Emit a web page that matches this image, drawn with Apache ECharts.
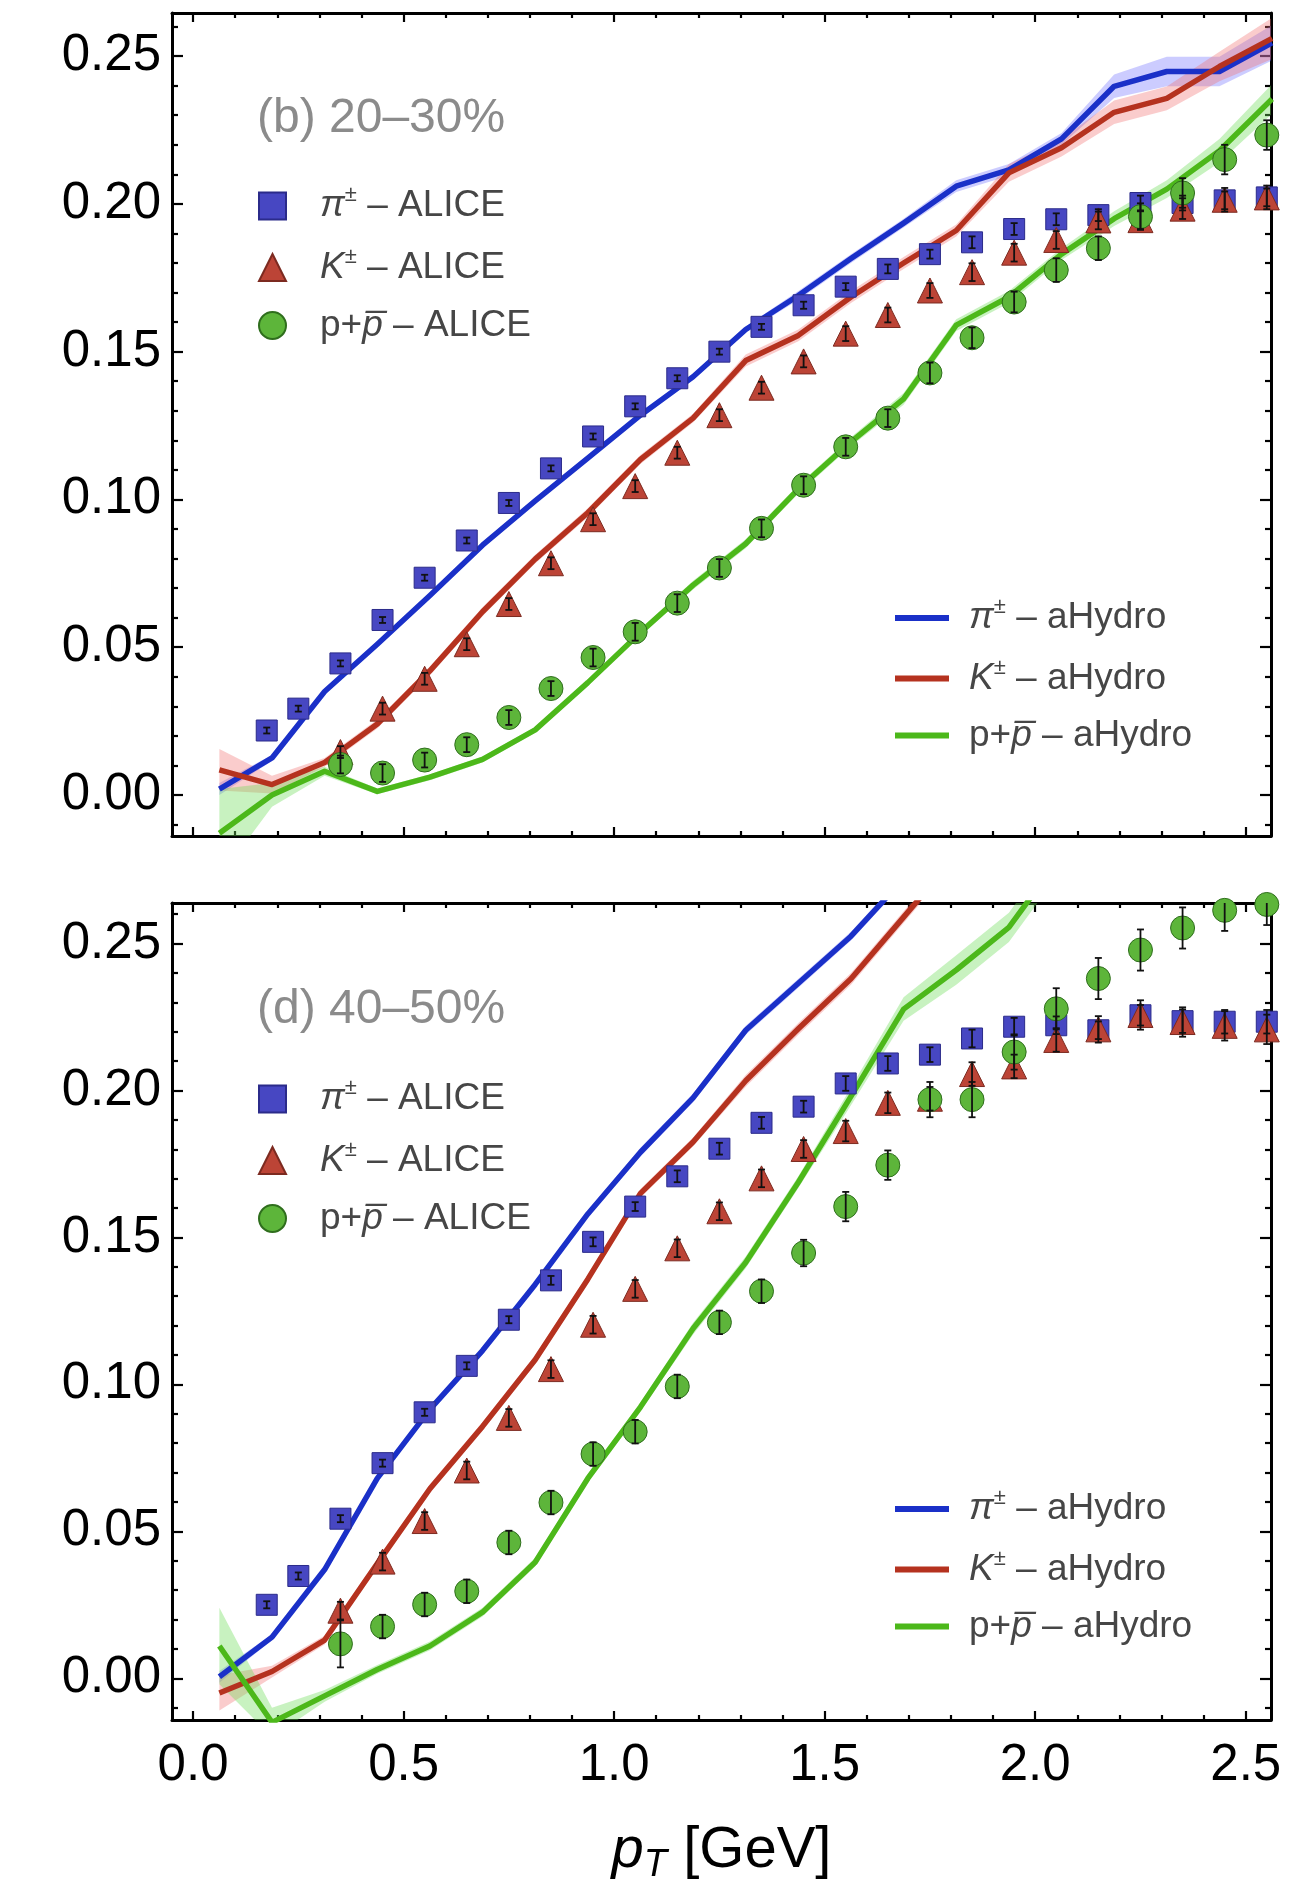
<!DOCTYPE html>
<html>
<head>
<meta charset="utf-8">
<script src="https://cdn.jsdelivr.net/npm/echarts@6/dist/echarts.min.js"></script>
<style>html,body{margin:0;padding:0;background:#fff}#c{width:1301px;height:1885px}</style>
</head>
<body>
<div id="c"></div>
<script>
// ---------------- DATA ----------------
// aHydro model grid (GeV)
const ptModel = [0.0625, 0.1875, 0.3125, 0.4375, 0.5625, 0.6875, 0.8125, 0.9375, 1.0625, 1.1875, 1.3125,
                 1.4375, 1.5625, 1.6875, 1.8125, 1.9375, 2.0625, 2.1875, 2.3125, 2.4375, 2.5625];
// panel (b) 20-30% : aHydro v2
const piHydroB = [0.002, 0.0125, 0.035, 0.051, 0.0675, 0.0845, 0.0995, 0.114, 0.1285, 0.1415, 0.1575,
                  0.169, 0.1815, 0.1935, 0.206, 0.2115, 0.222, 0.2398, 0.2448, 0.2448, 0.2545];
const kHydroB  = [0.0085, 0.0035, 0.011, 0.024, 0.042, 0.062, 0.0798, 0.0955, 0.1135, 0.1275, 0.147,
                  0.1555, 0.1685, 0.180, 0.191, 0.2105, 0.219, 0.231, 0.2357, 0.2465, 0.256];
const pHydroB  = [-0.013, 0.0, 0.008, 0.0012, 0.006, 0.012, 0.022, 0.038, 0.055, 0.071, 0.085,
                  0.1035, 0.1195, 0.134, 0.159, 0.1685, 0.183, 0.195, 0.205, 0.218, 0.2355];
const piBandB  = [0.002, 0.001, 0.001, 0.001, 0.001, 0.001, 0.001, 0.001, 0.001, 0.001, 0.001,
                  0.0015, 0.0015, 0.0015, 0.002, 0.002, 0.002, 0.004, 0.005, 0.005, 0.006];
const kBandB   = [0.007, 0.003, 0.0015, 0.0015, 0.0015, 0.0015, 0.0015, 0.0015, 0.0015, 0.0015, 0.002,
                  0.002, 0.002, 0.002, 0.002, 0.003, 0.003, 0.004, 0.004, 0.005, 0.007];
const pBandB   = [0.015, 0.004, 0.0015, 0.001, 0.001, 0.001, 0.001, 0.001, 0.001, 0.0015, 0.0015,
                  0.0015, 0.0015, 0.002, 0.002, 0.002, 0.002, 0.0025, 0.003, 0.004, 0.005];
// panel (d) 40-50% : aHydro v2 (curves leave the frame at the top)
const piHydroD = [0.0005, 0.014, 0.037, 0.068, 0.0915, 0.1115, 0.134, 0.158, 0.179, 0.1975, 0.2205,
                  0.2365, 0.2525, 0.272];
const kHydroD  = [-0.005, 0.0023, 0.013, 0.039, 0.0645, 0.0857, 0.1084, 0.1358, 0.165, 0.1825, 0.2033,
                  0.221, 0.238, 0.259, 0.28];
const pHydroD  = [0.011, -0.015, -0.006, 0.003, 0.011, 0.0225, 0.0395, 0.068, 0.0923, 0.119, 0.1415,
                  0.1688, 0.198, 0.2277, 0.241, 0.2555, 0.28];
const piBandD  = [0.002, 0.001, 0.001, 0.001, 0.001, 0.001, 0.001, 0.001, 0.0015, 0.0015, 0.0015,
                  0.0015, 0.0015, 0.0015];
const kBandD   = [0.006, 0.002, 0.0015, 0.0015, 0.0015, 0.0015, 0.0015, 0.0015, 0.0015, 0.0015, 0.002,
                  0.002, 0.002, 0.002, 0.002];
const pBandD   = [0.013, 0.005, 0.002, 0.0015, 0.0015, 0.0015, 0.0015, 0.0015, 0.0015, 0.002, 0.002,
                  0.002, 0.003, 0.004, 0.005, 0.005, 0.005];

// ALICE measurements
const ptPion = [0.175, 0.25, 0.35, 0.45, 0.55, 0.65, 0.75, 0.85, 0.95, 1.05, 1.15, 1.25, 1.35,
                1.45, 1.55, 1.65, 1.75, 1.85, 1.95, 2.05, 2.15, 2.25, 2.35, 2.45, 2.55];
const ptKP   = [0.35, 0.45, 0.55, 0.65, 0.75, 0.85, 0.95, 1.05, 1.15, 1.25, 1.35,
                1.45, 1.55, 1.65, 1.75, 1.85, 1.95, 2.05, 2.15, 2.25, 2.35, 2.45, 2.55];
// (b) 20-30%
const piAliceB = [0.0218, 0.0292, 0.0445, 0.0592, 0.0735, 0.0861, 0.0988, 0.1105, 0.1213, 0.1315, 0.141,
                  0.150, 0.1584, 0.1657, 0.172, 0.178, 0.183, 0.187, 0.1915, 0.1948, 0.1962, 0.2003,
                  0.2003, 0.2012, 0.2022];
const piErrB   = [0.001, 0.001, 0.001, 0.001, 0.001, 0.001, 0.001, 0.001, 0.001, 0.001, 0.001,
                  0.001, 0.001, 0.0012, 0.0012, 0.0015, 0.0015, 0.002, 0.002, 0.002, 0.002, 0.0025,
                  0.0025, 0.003, 0.003];
const kAliceB  = [0.0145, 0.0292, 0.0393, 0.051, 0.0646, 0.0784, 0.0933, 0.1045, 0.1158, 0.1285, 0.1378,
                  0.1467, 0.1561, 0.1624, 0.1707, 0.1769, 0.1835, 0.1878, 0.1944, 0.1945, 0.1984,
                  0.2014, 0.2022];
const kErrB    = [0.002, 0.002, 0.002, 0.002, 0.002, 0.002, 0.002, 0.002, 0.002, 0.002, 0.002,
                  0.002, 0.0025, 0.0025, 0.0025, 0.003, 0.003, 0.003, 0.003, 0.003, 0.0035, 0.004, 0.004];
const pAliceB  = [0.0103, 0.0074, 0.0118, 0.017, 0.0262, 0.036, 0.0465, 0.0552, 0.0649, 0.0768, 0.0902,
                  0.1048, 0.1178, 0.1275, 0.1428, 0.1547, 0.1668, 0.1776, 0.185, 0.1957, 0.2037,
                  0.215, 0.2233];
const pErrB    = [0.003, 0.003, 0.0025, 0.0025, 0.0025, 0.0025, 0.003, 0.003, 0.003, 0.003, 0.003,
                  0.003, 0.003, 0.003, 0.0035, 0.0035, 0.0035, 0.004, 0.004, 0.0045, 0.005, 0.005, 0.005];
// (d) 40-50%
const piAliceD = [0.025, 0.0348, 0.0543, 0.0732, 0.0905, 0.1063, 0.122, 0.1354, 0.1485, 0.1605, 0.1708,
                  0.1802, 0.189, 0.1945, 0.2024, 0.2092, 0.2122, 0.2177, 0.2217, 0.2222, 0.2205, 0.2256,
                  0.2236, 0.2234, 0.2234];
const piErrD   = [0.0012, 0.0012, 0.0012, 0.0012, 0.0012, 0.0012, 0.0012, 0.0015, 0.0015, 0.0015, 0.002,
                  0.002, 0.002, 0.002, 0.0025, 0.0025, 0.0025, 0.003, 0.003, 0.003, 0.003, 0.0035,
                  0.004, 0.004, 0.004];
const kAliceD  = [0.023, 0.0397, 0.0535, 0.0707, 0.0886, 0.1052, 0.1203, 0.1325, 0.1463, 0.1589, 0.1701,
                  0.1801, 0.1862, 0.1958, 0.1972, 0.2056, 0.2082, 0.2172, 0.2208, 0.2257, 0.2233,
                  0.222, 0.2208];
const kErrD    = [0.003, 0.003, 0.003, 0.003, 0.003, 0.003, 0.003, 0.003, 0.003, 0.003, 0.003,
                  0.003, 0.0035, 0.0035, 0.004, 0.004, 0.004, 0.004, 0.0045, 0.005, 0.005, 0.005, 0.005];
const pAliceD  = [0.0117, 0.0176, 0.0251, 0.0296, 0.0462, 0.0598, 0.0763, 0.0839, 0.0993, 0.1211, 0.1317,
                  0.1447, 0.1605, 0.1746, 0.1969, 0.1969, 0.2131, 0.2278, 0.2381, 0.2478, 0.2553,
                  0.2613, 0.2633];
const pErrD    = [0.008, 0.004, 0.004, 0.004, 0.004, 0.004, 0.004, 0.004, 0.004, 0.004, 0.004,
                  0.0045, 0.005, 0.005, 0.006, 0.006, 0.006, 0.007, 0.007, 0.007, 0.007, 0.007, 0.007];

// axes / ticks
const xRange = [-0.05, 2.56];
const yRangeB = [-0.0139, 0.2646];
const yRangeD = [-0.0142, 0.2638];
const xMajorTicks = [0, 0.5, 1.0, 1.5, 2.0, 2.5];
const xTickLabels = ['0.0', '0.5', '1.0', '1.5', '2.0', '2.5'];
const xMinorTicks = [0.1, 0.2, 0.3, 0.4, 0.6, 0.7, 0.8, 0.9, 1.1, 1.2, 1.3, 1.4, 1.6, 1.7, 1.8, 1.9,
                     2.1, 2.2, 2.3, 2.4];
const yMajorTicks = [0, 0.05, 0.10, 0.15, 0.20, 0.25];
const yTickLabels = ['0.00', '0.05', '0.10', '0.15', '0.20', '0.25'];
const yMinorTicks = [-0.01, 0.01, 0.02, 0.03, 0.04, 0.06, 0.07, 0.08, 0.09, 0.11, 0.12, 0.13, 0.14,
                     0.16, 0.17, 0.18, 0.19, 0.21, 0.22, 0.23, 0.24, 0.26];

const panelLabels = ['(b) 20\u201330%', '(d) 40\u201350%'];
const aliceNames = ['\u03c0\u00b1 \u2013 ALICE', 'K\u00b1 \u2013 ALICE', 'p+p\u0305 \u2013 ALICE'];
const hydroNames = ['\u03c0\u00b1 \u2013 aHydro', 'K\u00b1 \u2013 aHydro', 'p+p\u0305 \u2013 aHydro'];

// ---------------- STYLE ----------------
const FONT = '"Liberation Sans", Arial, Helvetica, sans-serif';
const TXT = '#464646';
const species = [
  {line: '#1a30c8', band: 'rgba(110,110,255,0.35)', mark: '#4747c2', edge: '#2b2b8a', symbol: 'rect', size: 21},
  {line: '#b5321f', band: 'rgba(240,110,110,0.35)', mark: '#bc4436', edge: '#7c2a20', symbol: 'triangle', size: 25},
  {line: '#4cb81a', band: 'rgba(110,220,90,0.38)', mark: '#5db53a', edge: '#2f6e1d', symbol: 'circle', size: 24}
];
const grids = [
  {left: 172, top: 13, width: 1099, height: 823},
  {left: 172, top: 903, width: 1099, height: 825}
];
const panels = [
  {yr: yRangeB, hydro: [piHydroB, kHydroB, pHydroB], band: [piBandB, kBandB, pBandB],
   alice: [[ptPion, piAliceB, piErrB], [ptKP, kAliceB, kErrB], [ptKP, pAliceB, pErrB]],
   aliceTop: 184, hydroTop: 596, titleTop: 91},
  {yr: yRangeD, hydro: [piHydroD, kHydroD, pHydroD], band: [piBandD, kBandD, pBandD],
   alice: [[ptPion, piAliceD, piErrD], [ptKP, kAliceD, kErrD], [ptKP, pAliceD, pErrD]],
   aliceTop: 1077, hydroTop: 1487, titleTop: 982}
];

function lookup(ticks, labels, v) {
  for (let i = 0; i < ticks.length; i++) if (Math.abs(ticks[i] - v) < 1e-9) return labels[i];
  return '';
}

function mkAxis(g, pos, range, ticks, len, showLine, labelOpt) {
  const a = {
    type: 'value', gridIndex: g, position: pos, min: range[0], max: range[1],
    axisLine: {show: showLine, onZero: false, lineStyle: {color: '#000', width: 3}},
    axisTick: {show: true, inside: true, length: len, customValues: ticks,
               lineStyle: {color: '#000', width: 2.2}},
    axisLabel: {show: false},
    splitLine: {show: false},
    minorTick: {show: false},
    axisPointer: {show: false}
  };
  if (labelOpt) a.axisLabel = labelOpt;
  return a;
}

const xAxes = [], yAxes = [];
for (let g = 0; g < 2; g++) {
  const xl = g === 1 ? {
    show: true, customValues: xMajorTicks, margin: 20,
    formatter: v => lookup(xMajorTicks, xTickLabels, v),
    fontSize: 51, fontFamily: FONT, color: '#000'
  } : null;
  const xb = mkAxis(g, 'bottom', xRange, xMajorTicks, 9, true, xl);
  if (g === 1) {
    xb.name = '{i|p}{s|T}{t| [GeV]}';
    xb.nameLocation = 'middle';
    xb.nameGap = 98;
    xb.nameTextStyle = {
      rich: {
        i: {fontStyle: 'italic', fontSize: 58, lineHeight: 66, fontFamily: FONT, color: '#000'},
        s: {fontStyle: 'italic', fontSize: 38, lineHeight: 44, verticalAlign: 'bottom', fontFamily: FONT, color: '#000'},
        t: {fontSize: 58, lineHeight: 66, fontFamily: FONT, color: '#000'}
      }
    };
  }
  xAxes.push(xb);
  xAxes.push(mkAxis(g, 'bottom', xRange, xMinorTicks, 5, false, null));
  xAxes.push(mkAxis(g, 'top', xRange, xMajorTicks, 9, true, null));
  xAxes.push(mkAxis(g, 'top', xRange, xMinorTicks, 5, false, null));

  const yr = panels[g].yr;
  yAxes.push(mkAxis(g, 'left', yr, yMajorTicks, 11, true, {
    show: true, customValues: yMajorTicks, margin: 11,
    formatter: v => lookup(yMajorTicks, yTickLabels, v),
    fontSize: 51, fontFamily: FONT, color: '#000'
  }));
  yAxes.push(mkAxis(g, 'left', yr, yMinorTicks, 6, false, null));
  yAxes.push(mkAxis(g, 'right', yr, yMajorTicks, 11, true, null));
  yAxes.push(mkAxis(g, 'right', yr, yMinorTicks, 6, false, null));
}

function bandSeries(g, xs, ys, hw, color) {
  return {
    type: 'custom', xAxisIndex: g * 4, yAxisIndex: g * 4, clip: true, silent: true, z: 1,
    encode: {x: 0, y: 1},
    data: [[xs[0], ys[0]]],
    renderItem: function (params, api) {
      const up = [], dn = [];
      for (let i = 0; i < ys.length; i++) {
        up.push(api.coord([xs[i], ys[i] + hw[i]]));
        dn.push(api.coord([xs[i], ys[i] - hw[i]]));
      }
      return {type: 'polygon', shape: {points: up.concat(dn.reverse())}, style: {fill: color}};
    }
  };
}

function errSeries(g, xs, ys, es) {
  return {
    type: 'custom', xAxisIndex: g * 4, yAxisIndex: g * 4, clip: true, silent: true, z: 5,
    encode: {x: 0, y: 1},
    data: xs.map((x, i) => [x, ys[i], es[i]]),
    renderItem: function (params, api) {
      const x = api.value(0), y = api.value(1), e = api.value(2);
      const t = api.coord([x, y + e]), b = api.coord([x, y - e]);
      const cw = 3.5, st = {stroke: '#111', lineWidth: 1.8};
      return {type: 'group', children: [
        {type: 'line', shape: {x1: t[0], y1: t[1], x2: b[0], y2: b[1]}, style: st},
        {type: 'line', shape: {x1: t[0] - cw, y1: t[1], x2: t[0] + cw, y2: t[1]}, style: st},
        {type: 'line', shape: {x1: b[0] - cw, y1: b[1], x2: b[0] + cw, y2: b[1]}, style: st}
      ]};
    }
  };
}

const series = [];
for (let g = 0; g < 2; g++) {
  const P = panels[g];
  for (let s = 0; s < 3; s++) {
    const sp = species[s];
    const ys = P.hydro[s];
    const xs = ptModel.slice(0, ys.length);
    series.push(bandSeries(g, xs, ys, P.band[s], sp.band));
    series.push({
      type: 'line', name: hydroNames[s], xAxisIndex: g * 4, yAxisIndex: g * 4, z: 2,
      data: xs.map((x, i) => [x, ys[i]]), symbol: 'none', showSymbol: false, clip: true, silent: true,
      lineStyle: {color: sp.line, width: 5.5, join: 'round'}, itemStyle: {color: sp.line}
    });
  }
  for (let s = 0; s < 3; s++) {
    const sp = species[s];
    const [xs, ys, es] = P.alice[s];
    series.push({
      type: 'scatter', name: aliceNames[s], xAxisIndex: g * 4, yAxisIndex: g * 4, z: 3,
      data: xs.map((x, i) => [x, ys[i]]), symbol: sp.symbol, symbolSize: sp.size, silent: true,
      itemStyle: {color: sp.mark, borderColor: sp.edge, borderWidth: 1, opacity: 1}
    });
    series.push(errSeries(g, xs, ys, es));
  }
}

function richFor(gap) {
  return {
    g: {width: gap, lineHeight: 44, fontSize: 36},
    t: {fontSize: 37, lineHeight: 44, fontFamily: FONT, color: TXT},
    i: {fontSize: 37, lineHeight: 44, fontStyle: 'italic', fontFamily: FONT, color: TXT},
    s: {fontSize: 22, lineHeight: 26, verticalAlign: 'top', fontFamily: FONT, color: TXT}
  };
}
const legendFmt = {};
legendFmt[aliceNames[0]] = '{g| }{i|\u03c0}{s|\u00b1}{t| \u2013 ALICE}';
legendFmt[aliceNames[1]] = '{g| }{i|K}{s|\u00b1}{t| \u2013 ALICE}';
legendFmt[aliceNames[2]] = '{g| }{t|p+}{i|p\u0305}{t| \u2013 ALICE}';
legendFmt[hydroNames[0]] = '{g| }{i|\u03c0}{s|\u00b1}{t| \u2013 aHydro}';
legendFmt[hydroNames[1]] = '{g| }{i|K}{s|\u00b1}{t| \u2013 aHydro}';
legendFmt[hydroNames[2]] = '{g| }{t|p+}{i|p\u0305}{t| \u2013 aHydro}';

const legends = [];
for (let g = 0; g < 2; g++) {
  legends.push({
    orient: 'vertical', left: 258, top: panels[g].aliceTop, padding: 0,
    itemWidth: 27, itemHeight: 27, itemGap: 21, selectedMode: false,
    data: aliceNames, formatter: n => legendFmt[n],
    textStyle: {rich: richFor(29)}
  });
  legends.push({
    orient: 'vertical', left: 895, top: panels[g].hydroTop, padding: 0,
    itemWidth: 54, itemHeight: 6, itemGap: 20, selectedMode: false,
    data: hydroNames.map(n => ({name: n, icon: 'rect'})), formatter: n => legendFmt[n],
    textStyle: {rich: richFor(15)}
  });
}

const titles = panelLabels.map((t, g) => ({
  text: t, left: 257, top: panels[g].titleTop, padding: 0,
  textStyle: {fontSize: 48, lineHeight: 56, fontWeight: 'normal', fontFamily: FONT, color: '#8b8b8b'}
}));

const chart = echarts.init(document.getElementById('c'), null, {renderer: 'canvas', width: 1301, height: 1885});
chart.setOption({
  animation: false,
  backgroundColor: '#ffffff',
  title: titles,
  grid: grids,
  xAxis: xAxes,
  yAxis: yAxes,
  legend: legends,
  series: series
});
</script>
</body>
</html>
